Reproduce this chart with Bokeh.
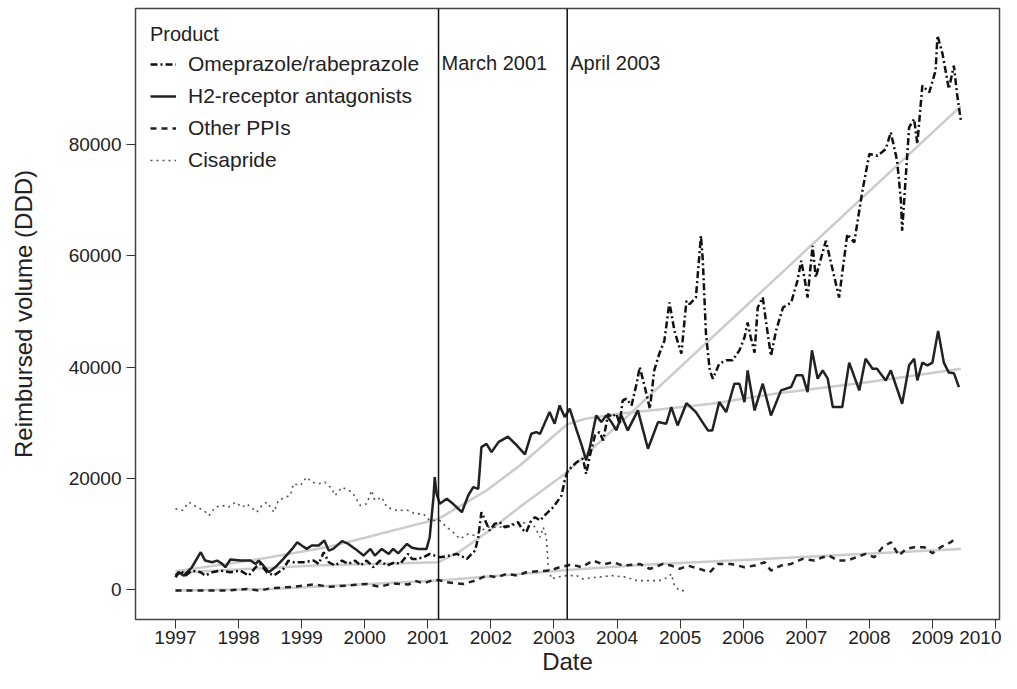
from bokeh.plotting import figure
from bokeh.models import Range1d, FixedTicker, Span, Label, Legend, LegendItem, BasicTickFormatter
from bokeh.embed import file_html
from bokeh.resources import INLINE

# ---------------- data (decimal year, DDD) ----------------
h2_t = [1997.00, 1997.05, 1997.13, 1997.26, 1997.40, 1997.47, 1997.58, 1997.66, 1997.74, 1997.79,
        1997.87, 1998.03, 1998.19, 1998.27, 1998.32, 1998.37, 1998.48, 1998.58, 1998.71, 1998.85,
        1998.93, 1999.00, 1999.08, 1999.16, 1999.27, 1999.36, 1999.43, 1999.50, 1999.64, 1999.74,
        1999.85, 1999.98, 2000.09, 2000.16, 2000.27, 2000.38, 2000.45, 2000.53, 2000.67, 2000.75,
        2000.85, 2000.98, 2001.03, 2001.09, 2001.11, 2001.14, 2001.19, 2001.30, 2001.40, 2001.54,
        2001.64, 2001.72, 2001.80, 2001.85, 2001.93, 2002.01, 2002.12, 2002.27, 2002.41, 2002.54,
        2002.64, 2002.72, 2002.78, 2002.93, 2003.01, 2003.09, 2003.17, 2003.25, 2003.36, 2003.44,
        2003.51, 2003.57, 2003.62, 2003.67, 2003.75, 2003.83, 2003.91, 2003.99, 2004.07, 2004.17,
        2004.33, 2004.49, 2004.65, 2004.78, 2004.86, 2004.96, 2005.10, 2005.25, 2005.44, 2005.51,
        2005.62, 2005.73, 2005.86, 2005.94, 2006.02, 2006.07, 2006.18, 2006.31, 2006.44, 2006.60,
        2006.76, 2006.84, 2006.94, 2007.02, 2007.09, 2007.18, 2007.26, 2007.34, 2007.42, 2007.57,
        2007.68, 2007.84, 2007.94, 2008.05, 2008.12, 2008.26, 2008.34, 2008.52, 2008.63, 2008.71,
        2008.76, 2008.84, 2008.92, 2009.00, 2009.09, 2009.18, 2009.26, 2009.34, 2009.42]
h2_v = [2500, 3100, 2500, 4000, 6700, 5200, 4900, 5200, 4600, 4000,
        5400, 5200, 5200, 4600, 5200, 4600, 3100, 4000, 5500, 7300,
        8500, 7900, 7300, 7900, 7900, 8800, 7000, 7300, 8700, 8200,
        7300, 6100, 7300, 6100, 7300, 6400, 7300, 6500, 8200, 7500,
        7300, 7300, 9400, 16600, 20200, 17200, 15400, 16300, 15400, 13900,
        16900, 18400, 18100, 25600, 26200, 24700, 26500, 27500, 25900, 24300,
        28000, 28300, 28000, 31900, 29800, 33100, 31000, 32500, 28600, 25900,
        23200, 25600, 28600, 31300, 30100, 31300, 30100, 28600, 31300, 28600,
        32200, 25300, 30100, 29800, 32800, 29500, 33500, 31900, 28600, 28600,
        33700, 31900, 37000, 37000, 33700, 39400, 32200, 37000, 31300, 35800,
        36400, 38500, 38500, 35500, 43000, 37900, 39400, 37900, 32800, 32800,
        40800, 35800, 41500, 39700, 39700, 37600, 39400, 33400, 40300, 41500,
        37600, 40800, 40300, 40800, 46500, 40800, 39000, 38900, 36400]

omep_t = [1997.00, 1997.08, 1997.16, 1997.26, 1997.40, 1997.47, 1997.58, 1997.71, 1997.87, 1998.03,
          1998.16, 1998.27, 1998.34, 1998.45, 1998.56, 1998.71, 1998.79, 1998.87, 1999.03, 1999.19,
          1999.27, 1999.35, 1999.43, 1999.53, 1999.64, 1999.74, 1999.85, 1999.93, 2000.03, 2000.14,
          2000.24, 2000.35, 2000.48, 2000.56, 2000.69, 2000.75, 2000.82, 2000.93, 2001.03, 2001.19,
          2001.35, 2001.46, 2001.62, 2001.75, 2001.80, 2001.85, 2001.91, 2001.98, 2002.06, 2002.14,
          2002.22, 2002.33, 2002.43, 2002.49, 2002.56, 2002.64, 2002.70, 2002.78, 2002.85, 2002.99,
          2003.12, 2003.17, 2003.22, 2003.36, 2003.46, 2003.51, 2003.57, 2003.65, 2003.72, 2003.78,
          2003.86, 2003.91, 2003.99, 2004.04, 2004.09, 2004.15, 2004.23, 2004.31, 2004.36, 2004.44,
          2004.52, 2004.59, 2004.67, 2004.75, 2004.83, 2004.91, 2005.02, 2005.10, 2005.15, 2005.25,
          2005.33, 2005.36, 2005.41, 2005.47, 2005.52, 2005.62, 2005.73, 2005.83, 2005.94, 2006.02,
          2006.07, 2006.12, 2006.18, 2006.23, 2006.31, 2006.36, 2006.44, 2006.52, 2006.63, 2006.76,
          2006.86, 2006.92, 2006.97, 2007.02, 2007.10, 2007.15, 2007.31, 2007.36, 2007.52, 2007.65,
          2007.76, 2007.89, 2008.00, 2008.13, 2008.26, 2008.34, 2008.44, 2008.50, 2008.52, 2008.58,
          2008.63, 2008.71, 2008.76, 2008.84, 2008.95, 2009.05, 2009.08, 2009.16, 2009.26, 2009.34,
          2009.39, 2009.45]
omep_v = [2200, 3400, 2500, 3400, 3100, 2500, 3100, 3400, 3100, 3400,
          2500, 4000, 4600, 3100, 2500, 3700, 5200, 4900, 4900, 5200,
          4600, 6700, 4900, 4300, 5200, 4600, 5200, 4300, 5200, 4000,
          5200, 4300, 4900, 4600, 6400, 5500, 5500, 5800, 6400, 5800,
          6100, 6400, 5500, 7000, 9400, 13900, 12400, 10600, 11800, 12100,
          11200, 11500, 12100, 10900, 10300, 12400, 13000, 12400, 13300, 14800,
          16900, 19600, 21400, 22900, 23500, 20800, 24100, 27700, 28300, 26800,
          31600, 31000, 31600, 29800, 34000, 34300, 33100, 37000, 40000, 36400,
          32500, 39400, 42400, 44700, 51600, 46500, 42400, 51900, 51300, 52500,
          63600, 59100, 45900, 39400, 37900, 40600, 41200, 41200, 43000, 45300,
          48000, 45300, 42600, 50700, 52500, 48300, 42000, 46500, 50700, 51600,
          55500, 59100, 56100, 52500, 61800, 56100, 62700, 60300, 52500, 63900,
          62400, 71700, 78300, 78000, 79200, 82200, 77100, 69900, 64500, 74700,
          83100, 84600, 80100, 90600, 89400, 93300, 99600, 96300, 90000, 94200,
          89100, 84300]

other_t = [1997.00, 1997.82, 1998.13, 1998.34, 1998.50, 1998.87, 1999.19, 1999.45, 1999.72, 2000.03,
           2000.24, 2000.45, 2000.69, 2000.82, 2000.93, 2001.06, 2001.17, 2001.30, 2001.56, 2001.75,
           2001.93, 2002.09, 2002.25, 2002.43, 2002.56, 2002.75, 2002.93, 2003.09, 2003.28, 2003.44,
           2003.62, 2003.78, 2003.94, 2004.09, 2004.36, 2004.52, 2004.73, 2004.86, 2004.99, 2005.12,
           2005.31, 2005.47, 2005.60, 2005.81, 2006.02, 2006.18, 2006.34, 2006.44, 2006.60, 2006.76,
           2006.94, 2007.13, 2007.26, 2007.36, 2007.50, 2007.65, 2007.79, 2007.94, 2008.08, 2008.21,
           2008.34, 2008.47, 2008.58, 2008.71, 2008.87, 2009.00, 2009.13, 2009.29, 2009.39]
other_v = [-200, -200, 100, -200, 200, 500, 900, 500, 700, 1000,
           500, 1100, 900, 1500, 1100, 1600, 1700, 1300, 1000, 1600,
           2500, 2200, 2800, 2500, 3100, 3300, 3400, 4000, 4500, 4000,
           5200, 4500, 4900, 4300, 4600, 3700, 4600, 4300, 3700, 4300,
           3700, 3100, 4600, 4600, 4000, 4300, 4900, 3400, 4300, 4600,
           5500, 5200, 5800, 6100, 5200, 5200, 5800, 6400, 5800, 7600,
           8500, 6100, 7300, 7600, 7600, 6500, 7600, 8500, 9400]

cis_t = [1997.00, 1997.11, 1997.21, 1997.34, 1997.45, 1997.53, 1997.63, 1997.74, 1997.84, 1997.95,
         1998.06, 1998.13, 1998.29, 1998.37, 1998.45, 1998.56, 1998.63, 1998.74, 1998.82, 1998.87,
         1998.98, 1999.08, 1999.16, 1999.27, 1999.37, 1999.48, 1999.53, 1999.64, 1999.80, 1999.93,
         2000.03, 2000.11, 2000.16, 2000.27, 2000.35, 2000.51, 2000.67, 2000.80, 2000.93, 2001.03,
         2001.19, 2001.30, 2001.40, 2001.51, 2001.64, 2001.75, 2001.93, 2002.14, 2002.35, 2002.62,
         2002.70, 2002.78, 2002.83, 2002.88, 2002.91, 2002.96, 2003.04, 2003.20, 2003.36, 2003.46,
         2003.67, 2003.93, 2004.15, 2004.31, 2004.52, 2004.67, 2004.81, 2004.86, 2004.91, 2004.99,
         2005.07]
cis_v = [14500, 14200, 15700, 14800, 14200, 13300, 14800, 15100, 14800, 15700,
         14800, 15400, 13900, 15100, 15700, 13900, 16000, 16600, 16900, 19000,
         18700, 20200, 19300, 19000, 19300, 18100, 16900, 18400, 17500, 15100,
         15400, 17800, 16000, 16600, 14800, 14200, 14300, 13600, 13600, 12400,
         12400, 11200, 10300, 9100, 10000, 9700, 11200, 11200, 11800, 12100,
         11200, 9400, 11200, 9400, 4000, 1900, 2200, 2500, 2500, 1900,
         2200, 2500, 2200, 1600, 1600, 1600, 2200, 2800, 700, -200,
         -200]

# fitted trends (grey)
omep_trend_t = [1997.00, 1999.20, 2001.17, 2001.50, 2002.00, 2002.50, 2003.21, 2006.73, 2009.45]
omep_trend_v = [3000, 4300, 4900, 6800, 10800, 15200, 21100, 58200, 86900]
h2_trend_t = [1997.00, 1998.19, 1999.40, 2000.00, 2001.17, 2001.93, 2002.46, 2003.21, 2003.50,
              2004.04, 2004.52, 2005.50, 2006.50, 2008.00, 2009.45]
h2_trend_v = [3300, 5200, 7600, 9300, 12700, 17800, 22300, 29700, 30700,
              31600, 32200, 33400, 35200, 37300, 39700]
other_trend_t = [1997.00, 1998.50, 1999.20, 2001.17, 2003.21, 2004.50, 2006.70, 2009.45]
other_trend_v = [-200, 100, 500, 1600, 3500, 4500, 5700, 7300]

year_ticks = list(range(1997, 2011))
value_ticks = [0, 20000, 40000, 60000, 80000]
events = [(2001.17, "March 2001"), (2003.21, "April 2003")]
event_label_y = 94700

# ---------------- figure ----------------
FONT = "Liberation Sans"
p = figure(width=1001, height=681, output_backend="svg", toolbar_location=None,
           x_range=Range1d(1996.366, 2010.063), y_range=Range1d(-5394, 104464),
           min_border_left=135, min_border_right=2, min_border_top=8, min_border_bottom=62,
           x_axis_label="Date", y_axis_label="Reimbursed volume (DDD)")
p.grid.visible = False
p.outline_line_color = "#444444"
p.outline_line_width = 1.5
p.background_fill_color = "white"

for ax in (p.xaxis[0], p.yaxis[0]):
    ax.axis_line_color = None
    ax.major_tick_in = 0
    ax.major_tick_out = 9
    ax.major_tick_line_color = "#333333"
    ax.major_tick_line_width = 1
    ax.minor_tick_line_color = None
    ax.major_label_text_font = FONT
    ax.major_label_text_font_size = "19px"
    ax.major_label_text_color = "#222222"
    ax.axis_label_text_font = FONT
    ax.axis_label_text_font_size = "24px"
    ax.axis_label_text_font_style = "normal"
    ax.axis_label_text_color = "#222222"

p.xaxis.ticker = FixedTicker(ticks=year_ticks)
p.xaxis.major_label_standoff = 2
p.xaxis.axis_label_standoff = 1
p.yaxis.ticker = FixedTicker(ticks=value_ticks)
p.yaxis.formatter = BasicTickFormatter(use_scientific=False)
p.yaxis.major_label_orientation = "horizontal"
p.yaxis.major_label_standoff = 5
p.yaxis.axis_label_standoff = 29

TREND = "#cccccc"
p.line(omep_trend_t, omep_trend_v, line_color=TREND, line_width=2.5)
p.line(h2_trend_t, h2_trend_v, line_color=TREND, line_width=2.5)
p.line(other_trend_t, other_trend_v, line_color=TREND, line_width=2.5)

r_cis = p.line(cis_t, cis_v, line_color="#555555", line_width=1.6, line_dash="2 4")
r_oth = p.line(other_t, other_v, line_color="#222222", line_width=2.5, line_dash="6 5")
r_h2 = p.line(h2_t, h2_v, line_color="#222222", line_width=2.5)
r_om = p.line(omep_t, omep_v, line_color="#111111", line_width=2.5, line_dash="7 3 2 3")

for loc, txt in events:
    p.add_layout(Span(location=loc, dimension="height", line_color="#111111", line_width=1.5))
    p.add_layout(Label(x=loc, y=event_label_y, x_offset=3, text=txt, text_baseline="middle",
                       text_font=FONT, text_font_size="20px", text_color="#222222"))

legend = Legend(items=[
    LegendItem(label="Omeprazole/rabeprazole", renderers=[r_om]),
    LegendItem(label="H2-receptor antagonists", renderers=[r_h2]),
    LegendItem(label="Other PPIs", renderers=[r_oth]),
    LegendItem(label="Cisapride", renderers=[r_cis]),
], location="top_left", title="Product")
legend.title_text_font = FONT
legend.title_text_font_size = "20px"
legend.title_text_font_style = "normal"
legend.title_text_color = "#222222"
legend.title_standoff = 6
legend.label_text_font = FONT
legend.label_text_font_size = "21px"
legend.label_text_color = "#222222"
legend.label_height = 20
legend.glyph_height = 20
legend.glyph_width = 26
legend.label_standoff = 12
legend.spacing = 8
legend.padding = 7
legend.margin = 15
legend.border_line_color = None
legend.background_fill_alpha = 0
p.add_layout(legend)

open("out.html", "w").write(file_html(p, INLINE))
